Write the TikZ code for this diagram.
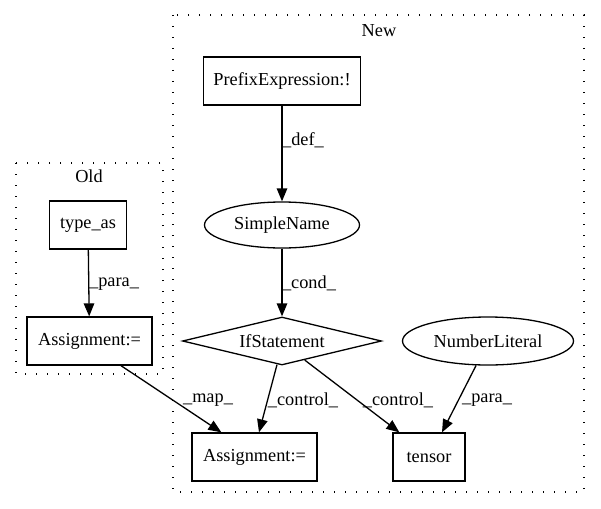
\documentclass[tikz,border=0pt]{standalone}
\usepackage{fontspec}
\setmainfont{Liberation Serif}
\usetikzlibrary{arrows.meta,shapes.geometric}
\tikzset{
  box/.style={draw,line width=1.3pt,rectangle,inner sep=0pt,minimum height=48pt},
  ell/.style={draw,line width=1.3pt,ellipse,inner sep=0pt},
  dia/.style={draw,line width=1.3pt,diamond,aspect=4.1,inner sep=0pt,minimum width=199pt,minimum height=48pt},
  cluster/.style={line width=1.3pt,dash pattern=on 1.3pt off 9.7pt},
  edge/.style={line width=1.3pt,-{Triangle[length=13pt,width=10.5pt]}},
  lbl/.style={inner sep=0pt},
}
\begin{document}
\begin{tikzpicture}[x=1pt,y=-1pt,font=\fontsize{18.3}{21}\selectfont]
\useasboundingbox (0,0) rectangle (601,508);
% clusters
\draw[cluster] (16,163) rectangle (163,374);
\node[lbl] (oldlbl) at (89,176) {Old};
\draw[cluster] (173,15) rectangle (584,492);
\node[lbl] (newlbl) at (379,31) {New};
% nodes
\node[box,minimum width=77pt] (typeas) at (88,225) {type\_as};
\node[box,minimum width=125pt] (asold) at (89.5,341) {Assignment:=};
\node[box,minimum width=157pt] (prefix) at (282,81) {PrefixExpression:!};
\node[ell,minimum width=155pt,minimum height=46pt] (simple) at (282,225) {SimpleName};
\node[dia] (ifst) at (282,341) {IfStatement};
\node[ell,minimum width=171pt,minimum height=48pt] (numlit) at (488,341) {NumberLiteral};
\node[box,minimum width=125pt] (asnew) at (254.5,457) {Assignment:=};
\node[box,minimum width=72pt] (tensor) at (429,457) {tensor};
% edges
\draw[edge] (typeas) -- (asold);
\node[lbl] (l1) at (114,284) {\_para\_};
\draw[edge] (prefix) -- (simple);
\node[lbl] (l2) at (303,140) {\_def\_};
\draw[edge] (simple) -- (ifst);
\node[lbl] (l3) at (309,283) {\_cond\_};
\draw[edge] ([xshift=31.5pt]asold.south) -- ([xshift=30pt]asnew.north west);
\node[lbl] (l4) at (208,400) {\_map\_};
\draw[edge] ([xshift=-5pt,yshift=1pt]ifst.south) -- ([xshift=4.5pt]asnew.north);
\node[lbl] (l5) at (303,400) {\_control\_};
\draw[edge] (ifst.-40) -- ([xshift=7pt]tensor.north west);
\node[lbl] (l6) at (398,400) {\_control\_};
\draw[edge] (numlit.244) -- ([xshift=13pt]tensor.north);
\node[lbl] (l7) at (487,400) {\_para\_};
\end{tikzpicture}
\end{document}
